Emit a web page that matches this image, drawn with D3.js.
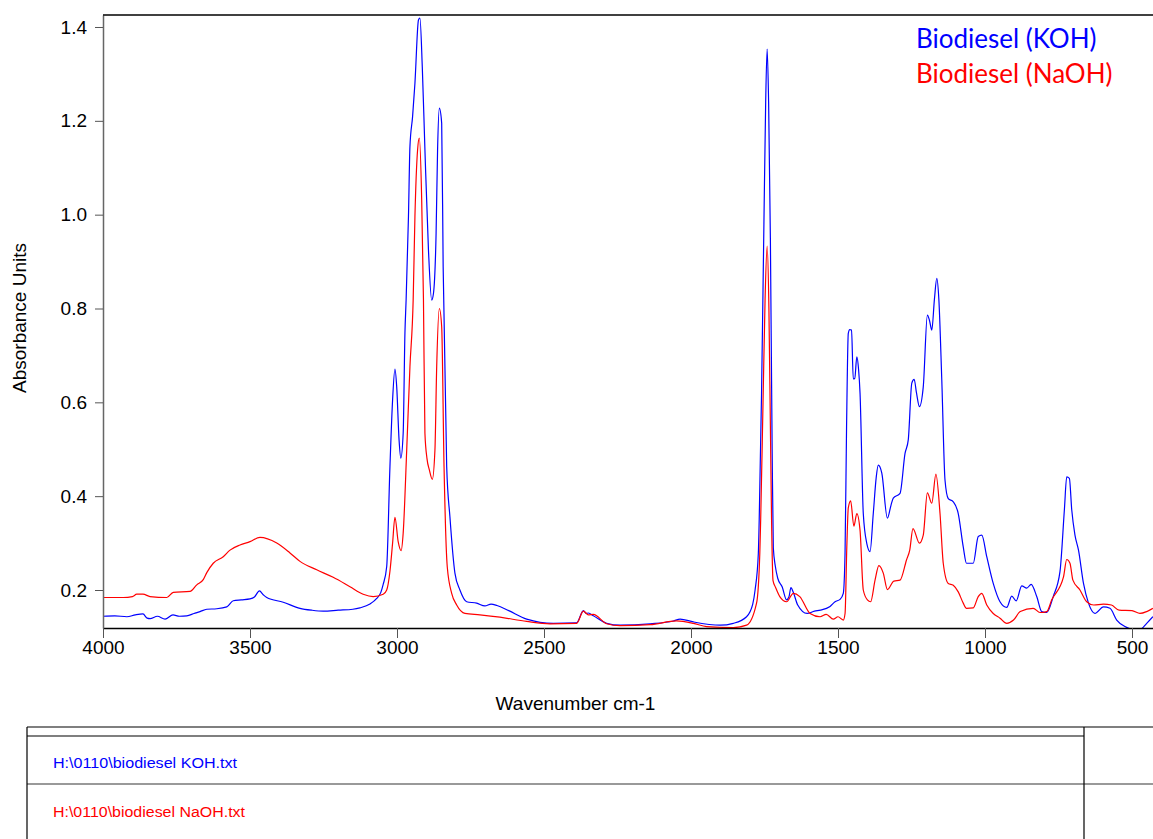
<!DOCTYPE html>
<html>
<head>
<meta charset="utf-8">
<script src="https://cdn.jsdelivr.net/npm/d3@7"></script>
<style>
  body { margin: 0; background: #fff; }
  svg { display: block; }
</style>
</head>
<body>
<script>
// Data (wavenumber cm-1, absorbance)
var kohWavenumber = [4000,3960,3919,3890,3864,3850,3840,3815,3789,3762,3740,3715,3690,3670,3647,3613,3579,3557,3530,3500,3485,3468,3455,3443,3387,3330,3290,3251,3200,3150,3126,3092,3069,3055,3047,3035,3024,3015,3007,3001,2993,2987,2979,2973,2969,2961,2956,2947,2939,2927,2922,2914,2905,2893,2882,2876,2867,2862,2856,2848,2843,2831,2820,2803,2786,2763,2729,2701,2680,2660,2620,2559,2468,2389,2366,2356,2349,2332,2287,2241,2139,2060,2037,1992,1901,1856,1811,1790,1782,1771,1768,1760,1752,1746,1741,1736,1730,1724,1720,1713,1705,1690,1675,1667,1660,1652,1637,1605,1580,1560,1527,1510,1493,1482,1476,1471,1465,1460,1454,1448,1443,1436,1430,1425,1414,1402,1391,1380,1370,1363,1351,1332,1320,1312,1289,1272,1261,1249,1241,1233,1223,1210,1196,1189,1181,1172,1164,1157,1147,1136,1125,1108,1091,1074,1063,1040,1023,1011,994,972,949,926,909,894,875,858,843,824,807,790,768,745,730,722,713,705,694,682,665,648,626,597,575,552,524,490,473,450,429];
var kohAbsorbance = [0.144,0.145,0.143,0.147,0.149,0.140,0.139,0.144,0.138,0.147,0.144,0.145,0.150,0.154,0.159,0.160,0.164,0.177,0.179,0.181,0.185,0.198,0.190,0.184,0.174,0.161,0.157,0.155,0.157,0.159,0.162,0.170,0.182,0.195,0.212,0.250,0.463,0.605,0.671,0.633,0.520,0.481,0.534,0.748,0.818,0.996,1.145,1.209,1.280,1.415,1.419,1.315,1.138,0.925,0.818,0.832,0.961,1.138,1.227,1.195,0.889,0.463,0.356,0.236,0.200,0.175,0.172,0.166,0.170,0.167,0.156,0.138,0.129,0.130,0.156,0.150,0.151,0.145,0.129,0.125,0.128,0.134,0.138,0.132,0.125,0.129,0.143,0.170,0.200,0.278,0.350,0.620,0.980,1.240,1.353,1.240,0.950,0.500,0.290,0.250,0.225,0.207,0.179,0.185,0.205,0.195,0.168,0.150,0.155,0.157,0.165,0.175,0.180,0.193,0.280,0.541,0.747,0.755,0.754,0.650,0.651,0.697,0.670,0.619,0.363,0.299,0.282,0.363,0.440,0.466,0.449,0.353,0.380,0.396,0.406,0.491,0.520,0.641,0.649,0.620,0.591,0.633,0.786,0.775,0.754,0.820,0.864,0.820,0.648,0.434,0.395,0.388,0.363,0.292,0.257,0.257,0.314,0.317,0.271,0.214,0.175,0.163,0.187,0.177,0.209,0.204,0.212,0.186,0.154,0.152,0.186,0.239,0.371,0.441,0.438,0.371,0.317,0.285,0.214,0.172,0.150,0.164,0.161,0.136,0.122,0.116,0.116,0.129,0.143];

var naohWavenumber = [4000,3931,3900,3885,3864,3840,3783,3761,3704,3681,3659,3647,3625,3591,3568,3534,3500,3466,3409,3364,3330,3273,3217,3160,3115,3081,3047,3035,3024,3015,3007,2996,2986,2979,2967,2956,2945,2939,2930,2924,2916,2910,2905,2898,2890,2880,2871,2865,2856,2848,2840,2829,2814,2797,2769,2718,2650,2559,2480,2389,2366,2349,2332,2287,2241,2139,2049,1992,1947,1856,1811,1777,1766,1763,1755,1748,1741,1735,1730,1726,1721,1712,1698,1675,1652,1630,1595,1561,1540,1516,1500,1482,1476,1470,1465,1457,1446,1436,1425,1414,1400,1389,1374,1361,1346,1332,1310,1289,1267,1256,1245,1223,1210,1196,1181,1167,1153,1142,1125,1108,1091,1074,1063,1040,1023,1011,994,972,949,926,903,880,836,813,790,773,733,722,711,701,677,654,630,597,570,544,500,473,450,429];
var naohAbsorbance = [0.184,0.184,0.186,0.191,0.191,0.186,0.184,0.195,0.197,0.211,0.222,0.237,0.257,0.271,0.285,0.296,0.303,0.312,0.300,0.279,0.261,0.243,0.227,0.207,0.191,0.186,0.191,0.200,0.240,0.300,0.355,0.303,0.284,0.321,0.498,0.676,0.818,0.996,1.138,1.163,1.031,0.818,0.534,0.480,0.456,0.436,0.498,0.676,0.800,0.761,0.463,0.249,0.193,0.168,0.150,0.147,0.142,0.133,0.128,0.129,0.155,0.147,0.148,0.128,0.124,0.126,0.134,0.129,0.122,0.120,0.125,0.172,0.278,0.350,0.600,0.820,0.933,0.800,0.550,0.350,0.220,0.205,0.186,0.175,0.193,0.186,0.150,0.143,0.148,0.138,0.143,0.136,0.150,0.292,0.375,0.390,0.336,0.363,0.327,0.200,0.179,0.175,0.221,0.252,0.236,0.201,0.219,0.221,0.264,0.285,0.331,0.300,0.317,0.407,0.385,0.447,0.363,0.257,0.214,0.210,0.196,0.172,0.161,0.162,0.186,0.193,0.168,0.150,0.140,0.129,0.136,0.154,0.161,0.152,0.154,0.179,0.228,0.265,0.257,0.221,0.200,0.175,0.168,0.170,0.168,0.157,0.156,0.150,0.154,0.161];

var xTicks = [4000, 3500, 3000, 2500, 2000, 1500, 1000, 500];
var yTicks = [0.2, 0.4, 0.6, 0.8, 1.0, 1.2, 1.4];
var seriesNames = ["Biodiesel (KOH)", "Biodiesel (NaOH)"];
var fileNames = ["H:\\0110\\biodiesel KOH.txt", "H:\\0110\\biodiesel NaOH.txt"];
var seriesColors = ["#0000ff", "#ff0000"];

var width = 1153;
var height = 839;
var plotLeft = 103, plotRight = 1153, plotTop = 15, plotBottom = 628;

var svg = d3.select("body")
  .append("svg")
  .attr("width", width)
  .attr("height", height);

var x = d3.scaleLinear()
  .domain([4000, 4000 - (plotRight - plotLeft) / 147 * 500])
  .range([plotLeft, plotRight]);

var y = d3.scaleLinear()
  .domain([0.2 - (plotBottom - 590) / 469.17, 1.4 + (27 - plotTop) / 469.17])
  .range([plotBottom, plotTop]);

svg.append("clipPath").attr("id", "plotclip")
  .append("rect")
  .attr("x", plotLeft).attr("y", plotTop)
  .attr("width", plotRight - plotLeft).attr("height", plotBottom - plotTop);

// spectra
var line = d3.line()
  .x(function(d) { return x(d[0]); })
  .y(function(d) { return y(d[1]); })
  .curve(d3.curveMonotoneX);

var series = [
  d3.zip(kohWavenumber, kohAbsorbance),
  d3.zip(naohWavenumber, naohAbsorbance)
];

svg.append("g")
  .attr("clip-path", "url(#plotclip)")
  .selectAll("path")
  .data(series)
  .enter()
  .append("path")
  .attr("fill", "none")
  .attr("stroke", function(d, i) { return seriesColors[i]; })
  .attr("stroke-width", 1.2)
  .attr("d", line);

// axes
var xAxis = svg.append("g")
  .attr("transform", "translate(0," + plotBottom + ")")
  .call(d3.axisBottom(x).tickValues(xTicks).tickSize(10).tickSizeOuter(0).tickPadding(3).tickFormat(d3.format("d")));

var yAxis = svg.append("g")
  .attr("transform", "translate(" + plotLeft + ",0)")
  .call(d3.axisLeft(y).tickValues(yTicks).tickSize(8).tickSizeOuter(0).tickPadding(8).tickFormat(d3.format(".1f")));

[xAxis, yAxis].forEach(function(a) {
  a.selectAll("text")
    .attr("fill", "#000")
    .style("font-family", "'Liberation Sans', Arial, sans-serif")
    .style("font-size", "19px");
  a.selectAll(".tick line").attr("stroke", "#555");
});
xAxis.select(".domain").attr("stroke", "#000").attr("stroke-width", 1.5);
yAxis.select(".domain").attr("stroke", "#666").attr("stroke-width", 1.5);

// top frame line
svg.append("line")
  .attr("x1", plotLeft).attr("x2", plotRight)
  .attr("y1", plotTop).attr("y2", plotTop)
  .attr("stroke", "#000").attr("stroke-width", 1.5);

// axis titles
svg.append("text")
  .attr("x", (plotLeft + 1048) / 2)
  .attr("y", 710)
  .attr("text-anchor", "middle")
  .style("font-family", "'Liberation Sans', Arial, sans-serif")
  .style("font-size", "19px")
  .text("Wavenumber cm-1");

svg.append("text")
  .attr("transform", "translate(26,318) rotate(-90)")
  .attr("text-anchor", "middle")
  .style("font-family", "'Liberation Sans', Arial, sans-serif")
  .style("font-size", "19px")
  .text("Absorbance Units");

// legend
svg.selectAll(".legend")
  .data(seriesNames)
  .enter()
  .append("text")
  .attr("class", "legend")
  .attr("x", 916)
  .attr("y", function(d, i) { return 48 + i * 35; })
  .attr("fill", function(d, i) { return seriesColors[i]; })
  .style("font-family", "Lato, 'Open Sans', sans-serif")
  .style("font-size", "26px")
  .text(function(d) { return d; });

// file table at bottom
var tb = svg.append("g")
  .attr("fill", "none")
  .attr("stroke", "#000")
  .attr("stroke-width", 1.2);
tb.append("line").attr("x1", 27).attr("x2", 1153).attr("y1", 727).attr("y2", 727).attr("stroke", "#555").attr("stroke-width", 1.5);
tb.append("line").attr("x1", 27).attr("x2", 1084).attr("y1", 736).attr("y2", 736);
tb.append("line").attr("x1", 27).attr("x2", 1153).attr("y1", 784).attr("y2", 784).attr("stroke", "#777").attr("stroke-width", 1.5);
tb.append("line").attr("x1", 27).attr("x2", 27).attr("y1", 727).attr("y2", 839);
tb.append("line").attr("x1", 1084).attr("x2", 1084).attr("y1", 727).attr("y2", 839);

svg.selectAll(".fname")
  .data(fileNames)
  .enter()
  .append("text")
  .attr("class", "fname")
  .attr("x", 53)
  .attr("y", function(d, i) { return 768 + i * 49; })
  .attr("fill", function(d, i) { return seriesColors[i]; })
  .attr("textLength", function(d, i) { return i === 0 ? 184 : 192; })
  .attr("lengthAdjust", "spacingAndGlyphs")
  .style("font-family", "'Liberation Sans', Arial, sans-serif")
  .style("font-size", "14px")
  .text(function(d) { return d; });
</script>
</body>
</html>
